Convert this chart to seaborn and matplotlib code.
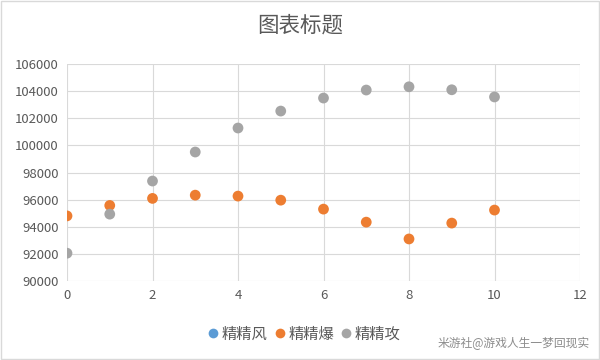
import pandas as pd
import matplotlib.pyplot as plt
import seaborn as sns
from matplotlib.lines import Line2D

x_vals = [0, 1, 2, 3, 4, 5, 6, 7, 8, 9, 10]
bao_vals = [94800, 95570, 96090, 96330, 96260, 95960, 95300, 94340, 93100, 94270, 95230]
gong_vals = [92050, 94930, 97370, 99510, 101280, 102530, 103490, 104080, 104320, 104100, 103570]
series_names = ["精精风", "精精爆", "精精攻"]
series_colors = ["#5B9BD5", "#ED7D31", "#A5A5A5"]

df = pd.concat([
    pd.DataFrame({"x": x_vals, "y": bao_vals, "series": "精精爆"}),
    pd.DataFrame({"x": x_vals, "y": gong_vals, "series": "精精攻"}),
], ignore_index=True)

sns.set_style("white")
plt.rcParams["font.family"] = ["Noto Sans CJK SC", "DejaVu Sans"]

fig = plt.figure(figsize=(6, 3.6), dpi=100)
ax = fig.add_axes([67 / 600, 1 - 281 / 360, 513 / 600, 217 / 360])

sns.scatterplot(data=df, x="x", y="y", hue="series",
                palette=dict(zip(series_names, series_colors)),
                s=60, edgecolor="none", legend=False, ax=ax, zorder=3)

ax.set_xlim(0, 12)
ax.set_ylim(90000, 106000)
ax.set_xticks(range(0, 13, 2))
ax.set_yticks(range(90000, 106001, 2000))
ax.grid(True, color="#d9d9d9", linewidth=0.8)
for s in ax.spines.values():
    s.set_visible(False)
ax.tick_params(length=0, labelsize=9.5, colors="#595959", pad=6)
ax.set_xlabel("")
ax.set_ylabel("")
ax.set_clip_on(False)

fig.text(0.5, 1 - 26 / 360, "图表标题", ha="center", va="center",
         fontsize=15.5, color="#595959")

handles = [Line2D([], [], marker="o", linestyle="none", markersize=7,
                  markerfacecolor=c, markeredgecolor="none") for c in series_colors]
fig.legend(handles, series_names, loc="center", bbox_to_anchor=(303 / 600, 1 - 334 / 360),
           ncol=3, frameon=False, fontsize=11, handletextpad=0.05, columnspacing=0.3,
           handlelength=1.0, labelcolor="#595959")

fig.text(590 / 600, 1 - 343 / 360, "米游社@游戏人生一梦回现实", ha="right", va="center",
         fontsize=8.5, color="#8c8c8c")

fig.patches.append(plt.Rectangle((0.002, 0.003), 0.996, 0.994, transform=fig.transFigure,
                                 fill=False, edgecolor="#d9d9d9", linewidth=1))

fig.savefig("out.png", dpi=100)
